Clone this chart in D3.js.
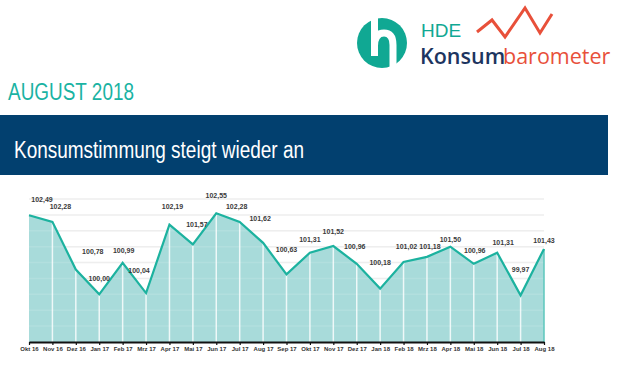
<!DOCTYPE html>
<html>
<head>
<meta charset="utf-8">
<script src="https://cdn.jsdelivr.net/npm/d3@7"></script>
<style>
  body { margin: 0; background: #fff; }
  svg { display: block; font-family: "Liberation Sans", Arial, sans-serif; }
</style>
</head>
<body>
<div id="chart"></div>
<script>
// Monthly values of the HDE Konsumbarometer
const months = ["Okt 16", "Nov 16", "Dez 16", "Jan 17", "Feb 17", "Mrz 17", "Apr 17", "Mai 17",
  "Jun 17", "Jul 17", "Aug 17", "Sep 17", "Okt 17", "Nov 17", "Dez 17", "Jan 18", "Feb 18",
  "Mrz 18", "Apr 18", "Mai 18", "Jun 18", "Jul 18", "Aug 18"];
const values = [102.49, 102.28, 100.78, 100.00, 100.99, 100.04, 102.19, 101.57, 102.55, 102.28,
  101.62, 100.63, 101.31, 101.52, 100.96, 100.18, 101.02, 101.18, 101.50, 100.96, 101.31,
  99.97, 101.43];
const gridValues = [99, 99.5, 100, 100.5, 101, 101.5, 102, 102.5, 103];

// label nudges (px) relative to each point
const labelDx = [13, 8, 17, 0, 1, -7, 3, 4, 0, -3, -3, 0, 0, 0, -2, 0, 3, 3, 0, 1, 6, 0, 0];
const labelDy = [-16, -15, -18, -16, -12, -23, -18, -20, -18, -15, -24, -25, -13, -14, -17, -26,
  -15, -10, -7, -13, -10, -26, -8];

const width = 620, height = 368;
const svg = d3.select("#chart").append("svg")
  .attr("width", width)
  .attr("height", height);

const de = d3.formatLocale({decimal: ",", thousands: ".", grouping: [3], currency: ["", " €"]});
const fmt = de.format(".2f");

// ---- header / logo
const logo = svg.append("g");
logo.append("circle")
  .attr("cx", 382).attr("cy", 43).attr("r", 25)
  .attr("fill", "#10a893");
logo.append("path")
  .attr("d", "M374.5 18 L374.5 56 M374.5 46 Q374.5 33 384 33 Q393 33 393 45 L393 68")
  .attr("fill", "none")
  .attr("stroke", "#fff")
  .attr("stroke-width", 7);
logo.append("text")
  .attr("x", 421).attr("y", 37)
  .attr("font-size", 19)
  .attr("fill", "#10a893")
  .text("HDE");
logo.append("path")
  .attr("d", "M477 32 L492 20 L505 37 L525 8 L540 33 L552 14")
  .attr("fill", "none")
  .attr("stroke", "#e8503a")
  .attr("stroke-width", 3);
logo.append("text")
  .attr("x", 420).attr("y", 64)
  .attr("font-family", "Open Sans, Noto Sans, sans-serif")
  .attr("font-size", 21.5)
  .attr("font-weight", 600)
  .attr("fill", "#1d3560")
  .text("Konsum");
logo.append("text")
  .attr("x", 503).attr("y", 64)
  .attr("font-family", "Open Sans, Noto Sans, sans-serif")
  .attr("font-size", 21.5)
  .attr("fill", "#e8503a")
  .text("barometer");

svg.append("text")
  .attr("x", 8).attr("y", 100)
  .attr("font-size", 23)
  .attr("fill", "#1ab3a3")
  .attr("textLength", 126)
  .attr("lengthAdjust", "spacingAndGlyphs")
  .text("AUGUST 2018");

svg.append("rect")
  .attr("x", 0).attr("y", 115)
  .attr("width", 608).attr("height", 60)
  .attr("fill", "#02406f");
svg.append("text")
  .attr("x", 14).attr("y", 158)
  .attr("font-size", 23)
  .attr("fill", "#fff")
  .attr("textLength", 290)
  .attr("lengthAdjust", "spacingAndGlyphs")
  .text("Konsumstimmung steigt wieder an");

// ---- chart
const x = d3.scalePoint().domain(months).range([29, 544]);
const y = d3.scaleLinear().domain([98.5, 103]).range([342, 199]);

svg.append("g")
  .selectAll("line")
  .data(gridValues)
  .join("line")
  .attr("x1", 29).attr("x2", 544)
  .attr("y1", d => y(d)).attr("y2", d => y(d))
  .attr("stroke", "#ececec")
  .attr("stroke-width", 1.5);

const pts = months.map((m, i) => ({m, v: values[i], i}));

const area = d3.area()
  .x(d => x(d.m))
  .y0(y(98.5))
  .y1(d => y(d.v));

svg.append("path")
  .datum(pts)
  .attr("d", area)
  .attr("fill", "#a8dbda");

// faint grid over the fill
svg.append("g")
  .selectAll("line")
  .data(gridValues)
  .join("line")
  .attr("x1", 29).attr("x2", 544)
  .attr("y1", d => y(d)).attr("y2", d => y(d))
  .attr("stroke", "#fff")
  .attr("stroke-opacity", 0.12)
  .attr("stroke-width", 1.5);

// white drop lines
svg.append("g")
  .selectAll("line")
  .data(pts.slice(1, -1))
  .join("line")
  .attr("x1", d => x(d.m)).attr("x2", d => x(d.m))
  .attr("y1", y(98.5)).attr("y2", d => y(d.v))
  .attr("stroke", "#fff")
  .attr("stroke-opacity", 0.8)
  .attr("stroke-width", 1.5);

svg.append("line")
  .attr("x1", x(months[months.length - 1])).attr("x2", x(months[months.length - 1]))
  .attr("y1", y(98.5)).attr("y2", y(values[values.length - 1]))
  .attr("stroke", "#5cc7bc")
  .attr("stroke-width", 1.5);

const line = d3.line()
  .x(d => x(d.m))
  .y(d => y(d.v));

svg.append("path")
  .datum(pts)
  .attr("d", line)
  .attr("fill", "none")
  .attr("stroke", "#1cb29f")
  .attr("stroke-width", 2.2);

const xAxis = svg.append("g")
  .attr("transform", "translate(0," + y(98.5) + ")")
  .call(d3.axisBottom(x).tickSize(3).tickSizeOuter(0).tickPadding(2));
xAxis.select(".domain").attr("stroke", "#111").attr("stroke-width", 2);
xAxis.selectAll(".tick line").attr("stroke", "#111").attr("stroke-width", 1.2);
xAxis.selectAll(".tick text")
  .attr("font-size", 6)
  .attr("font-weight", "bold")
  .attr("fill", "#333")
  .attr("font-family", "Liberation Sans, Arial, sans-serif");

svg.append("g")
  .selectAll("text")
  .data(pts)
  .join("text")
  .attr("x", d => x(d.m) + labelDx[d.i])
  .attr("y", d => y(d.v) + labelDy[d.i])
  .attr("dy", "0.35em")
  .attr("text-anchor", "middle")
  .attr("font-size", 7)
  .attr("font-weight", "bold")
  .attr("fill", "#3a3a3a")
  .text(d => fmt(d.v));
</script>
</body>
</html>
